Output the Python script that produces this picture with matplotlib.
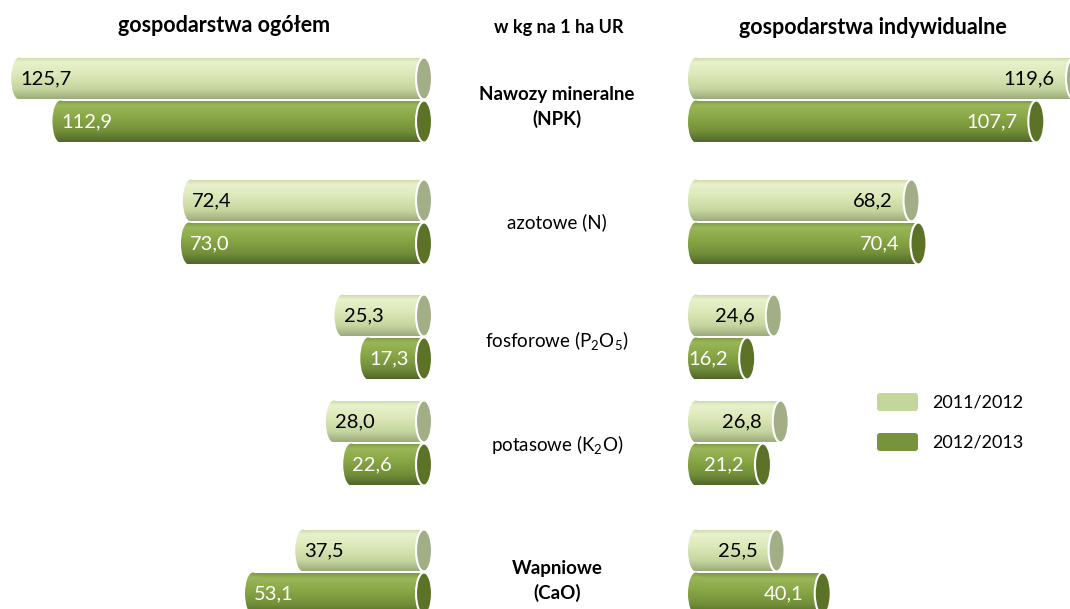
import numpy as np
import matplotlib.pyplot as plt
from matplotlib.patches import Ellipse, Rectangle, FancyBboxPatch
from matplotlib.colors import LinearSegmentedColormap

plt.rcParams['font.family'] = ['Lato', 'DejaVu Sans']
plt.rcParams['mathtext.fontset'] = 'custom'
plt.rcParams['mathtext.rm'] = 'Lato'
plt.rcParams['mathtext.default'] = 'regular'

# data (kg per 1 ha UR)
categories = ['Nawozy mineralne\n(NPK)', 'azotowe (N)', 'fosforowe (P$_2$O$_5$)',
              'potasowe (K$_2$O)', 'Wapniowe\n(CaO)']
bold_cat = [True, False, False, False, True]
seasons = ['2011/2012', '2012/2013']
ogolem_2011 = [125.7, 72.4, 25.3, 28.0, 37.5]
ogolem_2012 = [112.9, 73.0, 17.3, 22.6, 53.1]
indyw_2011 = [119.6, 68.2, 24.6, 26.8, 25.5]
indyw_2012 = [107.7, 70.4, 16.2, 21.2, 40.1]

# layout (pixels)
W, H = 1070, 609
PX_L = 3.22        # pixels per kg, left panel
PX_R = 3.16        # pixels per kg, right panel
LEFT_ZERO = 424
RIGHT_ZERO = 696
row_y = [100, 222, 337, 443, 572]
label_y = [107, 222, 340, 445, 581]
bar_h = 42
cap_px = 16

cmaps = [
    LinearSegmentedColormap.from_list('light', [(0, '#cbd8a6'), (0.12, '#e8f1cc'), (0.4, '#dde9b9'),
                                                (0.75, '#c6d69f'), (1, '#9dab7e')]),
    LinearSegmentedColormap.from_list('dark', [(0, '#7f9b42'), (0.12, '#9ab659'), (0.4, '#8aa847'),
                                               (0.75, '#728f39'), (1, '#51672a')]),
]
cap_faces = ['#a2ae86', '#5b7227']
legend_cols = ['#c3d69b', '#77933c']
text_cols = ['black', 'white']


def fmt(v):
    return f"{v:.1f}".replace('.', ',')


def cylinder(ax, xl, xr, yc, k, px):
    cap_w = cap_px / px
    top, bot = yc - bar_h / 2, yc + bar_h / 2
    grad = np.linspace(0, 1, 100).reshape(-1, 1)
    rect = Rectangle((min(xl, xr), top), abs(xr - xl), bar_h, fc='none', ec='none')
    end = Ellipse((xl, yc), cap_w, bar_h, fc='none', ec='none')
    ax.add_patch(rect)
    ax.add_patch(end)
    lo, hi = min(xl, xr) - cap_w, max(xl, xr) + cap_w
    for clip in (rect, end):
        im = ax.imshow(grad, cmap=cmaps[k], aspect='auto', extent=(lo, hi, bot, top),
                       origin='upper', interpolation='bilinear')
        im.set_clip_path(clip)
    ax.add_patch(Ellipse((xr, yc), cap_w, bar_h, fc=cap_faces[k], ec='white', lw=1.5))


fig = plt.figure(figsize=(W / 100, H / 100), dpi=100)

axl = fig.add_axes([0, 0, 440 / W, 1])
axr = fig.add_axes([680 / W, 0, (W - 680) / W, 1])


def set_limits():
    axl.set_xlim(LEFT_ZERO / PX_L, -16 / PX_L)
    axr.set_xlim(-16 / PX_R, (W - RIGHT_ZERO) / PX_R)
    for ax in (axl, axr):
        ax.set_ylim(H, 0)
        ax.axis('off')


set_limits()

for i, y in enumerate(row_y):
    for k, (vl, vr) in enumerate([(ogolem_2011[i], indyw_2011[i]), (ogolem_2012[i], indyw_2012[i])]):
        yc = y - bar_h / 2 - 0.5 if k == 0 else y + bar_h / 2 + 0.5
        # left panel: bars grow to the left, cap at zero
        cylinder(axl, vl, 0, yc, k, PX_L)
        axl.text(vl - 1 / PX_L, yc, fmt(vl), ha='left', va='center', fontsize=14.5, color=text_cols[k])
        # right panel: bars grow to the right, cap at the value
        cylinder(axr, 0, vr, yc, k, PX_R)
        axr.text(vr - 19 / PX_R, yc, fmt(vr), ha='right', va='center', fontsize=14.5, color=text_cols[k])

set_limits()

ov = fig.add_axes([0, 0, 1, 1])
ov.set_xlim(0, W)
ov.set_ylim(H, 0)
ov.axis('off')

ov.text(224, 26, 'gospodarstwa ogółem', ha='center', va='center', fontsize=15.5, fontweight='bold')
ov.text(559, 27, 'w kg na 1 ha UR', ha='center', va='center', fontsize=13, fontweight='bold')
ov.text(873, 27, 'gospodarstwa indywidualne', ha='center', va='center', fontsize=15.5, fontweight='bold')

for cat, b, y in zip(categories, bold_cat, label_y):
    ov.text(557, y, cat, ha='center', va='center', fontsize=13.5,
            fontweight='bold' if b else 'normal', linespacing=1.45)

for k, (season, y) in enumerate(zip(seasons, [402, 442])):
    ov.add_patch(FancyBboxPatch((877, y - 9), 41, 18, boxstyle='round,pad=0,rounding_size=3',
                                fc=legend_cols[k], ec='none'))
    ov.text(932, y, season, ha='left', va='center', fontsize=13)

fig.savefig('out.png', dpi=100)
